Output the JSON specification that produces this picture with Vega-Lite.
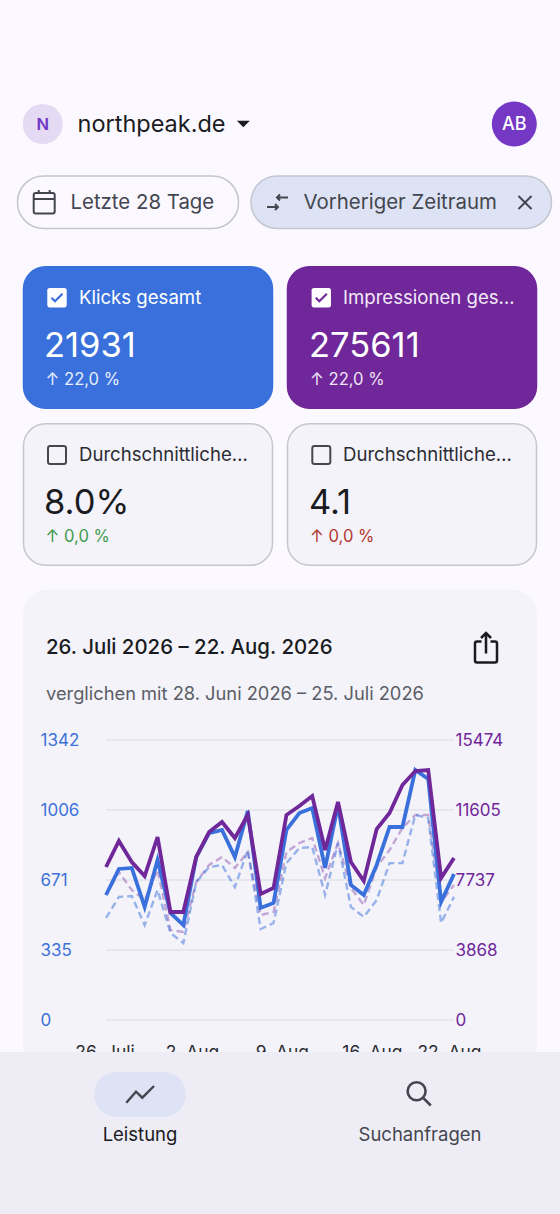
{
"$schema":"https://vega.github.io/schema/vega-lite/v6.json",
"width":560,"height":1214,"padding":0,"autosize":{"type":"none"},
"background":"#fbf9ff",
"view":{"stroke":null},
"config":{"text":{"font":"Inter"},"view":{"stroke":null}},
"datasets":{
"kennzahlen":[
{"id":"klicks","aktiv":true,"titel":"Klicks gesamt","wert":"21931","delta":"↑ 22,0 %","spalte":"links","zeile":"oben"},
{"id":"impressionen","aktiv":true,"titel":"Impressionen ges…","wert":"275611","delta":"↑ 22,0 %","spalte":"rechts","zeile":"oben"},
{"id":"ctr","aktiv":false,"titel":"Durchschnittliche…","wert":"8.0%","delta":"↑ 0,0 %","spalte":"links","zeile":"unten"},
{"id":"position","aktiv":false,"titel":"Durchschnittliche…","wert":"4.1","delta":"↑ 0,0 %","spalte":"rechts","zeile":"unten"}
],
"verlauf":[
{"tag":"2026-07-26","klicks":599,"impressionen":8455,"klicks_vorher":489,"impressionen_vorher":6908},
{"tag":"2026-07-27","klicks":724,"impressionen":9892,"klicks_vorher":590,"impressionen_vorher":8179},
{"tag":"2026-07-28","klicks":729,"impressionen":8732,"klicks_vorher":594,"impressionen_vorher":7184},
{"tag":"2026-07-29","klicks":542,"impressionen":7958,"klicks_vorher":455,"impressionen_vorher":6632},
{"tag":"2026-07-30","klicks":767,"impressionen":10113,"klicks_vorher":623,"impressionen_vorher":8290},
{"tag":"2026-07-31","klicks":513,"impressionen":5969,"klicks_vorher":417,"impressionen_vorher":4974},
{"tag":"2026-08-01","klicks":455,"impressionen":5969,"klicks_vorher":369,"impressionen_vorher":4863},
{"tag":"2026-08-02","klicks":781,"impressionen":9008,"klicks_vorher":661,"impressionen_vorher":7626},
{"tag":"2026-08-03","klicks":896,"impressionen":10390,"klicks_vorher":733,"impressionen_vorher":8566},
{"tag":"2026-08-04","klicks":911,"impressionen":10942,"klicks_vorher":743,"impressionen_vorher":9008},
{"tag":"2026-08-05","klicks":781,"impressionen":10058,"klicks_vorher":637,"impressionen_vorher":8400},
{"tag":"2026-08-06","klicks":1002,"impressionen":11329,"klicks_vorher":815,"impressionen_vorher":9284},
{"tag":"2026-08-07","klicks":537,"impressionen":6963,"klicks_vorher":436,"impressionen_vorher":5803},
{"tag":"2026-08-08","klicks":561,"impressionen":7295,"klicks_vorher":465,"impressionen_vorher":5969},
{"tag":"2026-08-09","klicks":911,"impressionen":11329,"klicks_vorher":752,"impressionen_vorher":9284},
{"tag":"2026-08-10","klicks":992,"impressionen":11826,"klicks_vorher":824,"impressionen_vorher":9782},
{"tag":"2026-08-11","klicks":1016,"impressionen":12379,"klicks_vorher":829,"impressionen_vorher":10058},
{"tag":"2026-08-12","klicks":729,"impressionen":9395,"klicks_vorher":599,"impressionen_vorher":7847},
{"tag":"2026-08-13","klicks":1030,"impressionen":12048,"klicks_vorher":848,"impressionen_vorher":9782},
{"tag":"2026-08-14","klicks":647,"impressionen":8732,"klicks_vorher":542,"impressionen_vorher":7295},
{"tag":"2026-08-15","klicks":599,"impressionen":7682,"klicks_vorher":494,"impressionen_vorher":6355},
{"tag":"2026-08-16","klicks":743,"impressionen":10555,"klicks_vorher":575,"impressionen_vorher":8455},
{"tag":"2026-08-17","klicks":925,"impressionen":11440,"klicks_vorher":752,"impressionen_vorher":9395},
{"tag":"2026-08-18","klicks":925,"impressionen":12987,"klicks_vorher":752,"impressionen_vorher":10611},
{"tag":"2026-08-19","klicks":1198,"impressionen":13761,"klicks_vorher":983,"impressionen_vorher":11329},
{"tag":"2026-08-20","klicks":1155,"impressionen":13816,"klicks_vorher":968,"impressionen_vorher":11329},
{"tag":"2026-08-21","klicks":566,"impressionen":7847,"klicks_vorher":465,"impressionen_vorher":6521},
{"tag":"2026-08-22","klicks":700,"impressionen":8953,"klicks_vorher":590,"impressionen_vorher":7461}
]
},
"resolve":{"scale":{"x":"independent","y":"independent","fill":"independent","stroke":"independent","color":"independent"}},
"layer":[
{"data":{"values":[{"element":"Avatar"}]},"mark":{"type":"point","shape":"circle","size":1600,"filled":true,"fill":"#e4daf3","opacity":1},"encoding":{"x":{"field":"element","type":"nominal","scale":{"type":"point","range":[42.7,42.7]},"axis":null},"y":{"field":"element","type":"nominal","scale":{"type":"point","range":[124,124]},"axis":null}}},
{"data":{"values":[{"element":"N"}]},"mark":{"type":"text","font":"Inter","fontSize":16.5,"fontWeight":600,"color":"#6e35c4","align":"center","baseline":"middle"},"encoding":{"text":{"field":"element"},"x":{"field":"element","type":"nominal","scale":{"type":"point","range":[42.7,42.7]},"axis":null},"y":{"field":"element","type":"nominal","scale":{"type":"point","range":[125,125]},"axis":null}}},
{"data":{"values":[{"element":"northpeak.de"}]},"mark":{"type":"text","font":"Inter","fontSize":23.5,"fontWeight":400,"color":"#1a1b21","align":"left","baseline":"middle"},"encoding":{"text":{"field":"element"},"x":{"field":"element","type":"nominal","scale":{"type":"point","range":[77.5,77.5]},"axis":null},"y":{"field":"element","type":"nominal","scale":{"type":"point","range":[125,125]},"axis":null}}},
{"data":{"values":[{"element":"Auswahl"}]},"mark":{"type":"point","shape":"M-6.5 -3.3H6.5L0 3.3Z","size":4,"filled":true,"fill":"#1a1b21","opacity":1},"encoding":{"x":{"field":"element","type":"nominal","scale":{"type":"point","range":[243.3,243.3]},"axis":null},"y":{"field":"element","type":"nominal","scale":{"type":"point","range":[124,124]},"axis":null}}},
{"data":{"values":[{"element":"Konto"}]},"mark":{"type":"point","shape":"circle","size":2025,"filled":true,"fill":"#7438c4","opacity":1},"encoding":{"x":{"field":"element","type":"nominal","scale":{"type":"point","range":[514.3,514.3]},"axis":null},"y":{"field":"element","type":"nominal","scale":{"type":"point","range":[124,124]},"axis":null}}},
{"data":{"values":[{"element":"AB"}]},"mark":{"type":"text","font":"Inter","fontSize":18,"fontWeight":500,"color":"#ffffff","align":"center","baseline":"middle"},"encoding":{"text":{"field":"element"},"x":{"field":"element","type":"nominal","scale":{"type":"point","range":[514.3,514.3]},"axis":null},"y":{"field":"element","type":"nominal","scale":{"type":"point","range":[125,125]},"axis":null}}},

{"data":{"values":[{"element":"Zeitraum"}]},"mark":{"type":"rect","cornerRadius":26,"fill":"#fbf9ff","stroke":"#c4c6d0","strokeWidth":1.5},"encoding":{"x":{"field":"element","type":"nominal","scale":{"type":"band","range":[17.5,238.5],"padding":0},"axis":null},"y":{"field":"element","type":"nominal","scale":{"type":"band","range":[176,228.5],"padding":0},"axis":null}}},
{"data":{"values":[{"element":"Vergleich"}]},"mark":{"type":"rect","cornerRadius":26,"fill":"#dde3f4","stroke":"#c4c6d0","strokeWidth":1.5},"encoding":{"x":{"field":"element","type":"nominal","scale":{"type":"band","range":[251,551.5],"padding":0},"axis":null},"y":{"field":"element","type":"nominal","scale":{"type":"band","range":[176,228.5],"padding":0},"axis":null}}},
{"data":{"values":[{"element":"Kalender"}]},"mark":{"type":"point","shape":"M-8.5 -9H8.5A2 2 0 0 1 10.5 -7V9.5A2 2 0 0 1 8.5 11.5H-8.5A2 2 0 0 1 -10.5 9.5V-7A2 2 0 0 1 -8.5 -9ZM-10.5 -3H10.5M-5.5 -12V-8M5.5 -12V-8","size":4,"filled":false,"stroke":"#44464f","strokeWidth":2,"opacity":1},"encoding":{"x":{"field":"element","type":"nominal","scale":{"type":"point","range":[44.2,44.2]},"axis":null},"y":{"field":"element","type":"nominal","scale":{"type":"point","range":[202,202]},"axis":null}}},
{"data":{"values":[{"element":"Pfeile"}]},"mark":{"type":"point","shape":"M-10.5 5H0.5M-2.5 2L0.5 5L-2.5 8M10.5 -4.5H-0.5M2.5 -7.5L-0.5 -4.5L2.5 -1.5","size":4,"filled":false,"stroke":"#44464f","strokeWidth":2,"opacity":1},"encoding":{"x":{"field":"element","type":"nominal","scale":{"type":"point","range":[277.5,277.5]},"axis":null},"y":{"field":"element","type":"nominal","scale":{"type":"point","range":[202,202]},"axis":null}}},
{"data":{"values":[{"element":"Schliessen"}]},"mark":{"type":"point","shape":"M-6.5 -6.5L6.5 6.5M6.5 -6.5L-6.5 6.5","size":4,"filled":false,"stroke":"#44464f","strokeWidth":2,"opacity":1},"encoding":{"x":{"field":"element","type":"nominal","scale":{"type":"point","range":[525,525]},"axis":null},"y":{"field":"element","type":"nominal","scale":{"type":"point","range":[202.5,202.5]},"axis":null}}},
{"data":{"values":[{"filter":"Letzte 28 Tage"},{"filter":"Vorheriger Zeitraum"}]},"mark":{"type":"text","font":"Inter","fontSize":20.4,"color":"#44464f","align":"left","baseline":"middle"},"encoding":{"text":{"field":"filter"},"x":{"field":"filter","type":"nominal","sort":null,"scale":{"type":"point","range":[70.5,303.5],"padding":0},"axis":null},"y":{"field":"filter","type":"nominal","scale":{"type":"point","range":[203,203]},"axis":null}}},

{"data":{"name":"kennzahlen"},"mark":{"type":"rect","cornerRadius":22,"strokeWidth":1.5},"encoding":{"x":{"field":"spalte","type":"nominal","scale":{"type":"band","range":[23.5,536.5],"paddingInner":0.0568,"paddingOuter":0},"axis":null},"y":{"field":"zeile","type":"nominal","scale":{"type":"band","range":[266.75,565.25],"paddingInner":0.0987,"paddingOuter":0},"axis":null},"fill":{"field":"id","type":"nominal","scale":{"domain":["klicks","impressionen","ctr","position"],"range":["#3970dc","#6f2799","#f4f3fa","#f4f3fa"]},"legend":null},"stroke":{"field":"id","type":"nominal","scale":{"domain":["klicks","impressionen","ctr","position"],"range":["#3970dc","#6f2799","#c4c6d0","#c4c6d0"]},"legend":null}}},
{"data":{"name":"kennzahlen"},"transform":[{"filter":"datum.aktiv"}],"mark":{"type":"point","shape":"M-7.5 -9.7H7.5A2.2 2.2 0 0 1 9.7 -7.5V7.5A2.2 2.2 0 0 1 7.5 9.7H-7.5A2.2 2.2 0 0 1 -9.7 7.5V-7.5A2.2 2.2 0 0 1 -7.5 -9.7Z","size":4,"filled":true,"fill":"#ffffff","opacity":1},"encoding":{"x":{"field":"spalte","type":"nominal","scale":{"type":"point","domain":["links","rechts"],"range":[57,321.3],"padding":0},"axis":null},"y":{"field":"zeile","type":"nominal","scale":{"type":"point","domain":["oben","unten"],"range":[297.7,455],"padding":0},"axis":null}}},
{"data":{"name":"kennzahlen"},"transform":[{"filter":"datum.aktiv"}],"mark":{"type":"point","shape":"M-5.5 0L-2 3.5L5.5 -4","size":4,"filled":false,"strokeWidth":2.2,"opacity":1},"encoding":{"x":{"field":"spalte","type":"nominal","scale":{"type":"point","domain":["links","rechts"],"range":[57,321.3],"padding":0},"axis":null},"y":{"field":"zeile","type":"nominal","scale":{"type":"point","domain":["oben","unten"],"range":[297.7,455],"padding":0},"axis":null},"stroke":{"field":"id","type":"nominal","scale":{"domain":["klicks","impressionen"],"range":["#3970dc","#6f2799"]},"legend":null}}},
{"data":{"name":"kennzahlen"},"transform":[{"filter":"!datum.aktiv"}],"mark":{"type":"point","shape":"M-6.8 -9H6.8A2.2 2.2 0 0 1 9 -6.8V6.8A2.2 2.2 0 0 1 6.8 9H-6.8A2.2 2.2 0 0 1 -9 6.8V-6.8A2.2 2.2 0 0 1 -6.8 -9Z","size":4,"filled":false,"stroke":"#46464f","strokeWidth":2,"opacity":1},"encoding":{"x":{"field":"spalte","type":"nominal","scale":{"type":"point","domain":["links","rechts"],"range":[57,321.3],"padding":0},"axis":null},"y":{"field":"zeile","type":"nominal","scale":{"type":"point","domain":["oben","unten"],"range":[297.7,455],"padding":0},"axis":null}}},
{"data":{"name":"kennzahlen"},"mark":{"type":"text","font":"Inter","fontSize":18.6,"align":"left","baseline":"middle"},"encoding":{"text":{"field":"titel"},"x":{"field":"spalte","type":"nominal","scale":{"type":"point","range":[79,343],"padding":0},"axis":null},"y":{"field":"zeile","type":"nominal","scale":{"type":"point","range":[298,455],"padding":0},"axis":null},"color":{"field":"id","type":"nominal","scale":{"domain":["klicks","impressionen","ctr","position"],"range":["#ffffff","#f3e9f8","#2a2b31","#2a2b31"]},"legend":null}}},
{"data":{"name":"kennzahlen"},"mark":{"type":"text","font":"Inter","fontSize":34.5,"align":"left","baseline":"middle"},"encoding":{"text":{"field":"wert"},"x":{"field":"spalte","type":"nominal","scale":{"type":"point","range":[44,309],"padding":0},"axis":null},"y":{"field":"zeile","type":"nominal","scale":{"type":"point","range":[347,504],"padding":0},"axis":null},"color":{"field":"id","type":"nominal","scale":{"domain":["klicks","impressionen","ctr","position"],"range":["#ffffff","#ffffff","#1a1b21","#1a1b21"]},"legend":null}}},
{"data":{"name":"kennzahlen"},"mark":{"type":"text","font":"Inter","fontSize":16.6,"align":"left","baseline":"middle"},"encoding":{"text":{"field":"delta"},"x":{"field":"spalte","type":"nominal","scale":{"type":"point","range":[45.5,310],"padding":0},"axis":null},"y":{"field":"zeile","type":"nominal","scale":{"type":"point","range":[380,537],"padding":0},"axis":null},"color":{"field":"id","type":"nominal","scale":{"domain":["klicks","impressionen","ctr","position"],"range":["#e8eefc","#f0e4f5","#3f9a4e","#b3372d"]},"legend":null}}},

{"data":{"values":[{"element":"Diagrammkarte"}]},"mark":{"type":"rect","cornerRadius":24,"fill":"#f4f3fa"},"encoding":{"x":{"field":"element","type":"nominal","scale":{"type":"band","range":[23,537],"padding":0},"axis":null},"y":{"field":"element","type":"nominal","scale":{"type":"band","range":[590,1260],"padding":0},"axis":null}}},
{"data":{"values":[{"titel":"26. Juli 2026 – 22. Aug. 2026"}]},"mark":{"type":"text","font":"Inter","fontSize":20.4,"fontWeight":500,"color":"#1a1b21","align":"left","baseline":"middle"},"encoding":{"text":{"field":"titel"},"x":{"field":"titel","type":"nominal","scale":{"type":"point","range":[46,46]},"axis":null},"y":{"field":"titel","type":"nominal","scale":{"type":"point","range":[647.5,647.5]},"axis":null}}},
{"data":{"values":[{"titel":"verglichen mit 28. Juni 2026 – 25. Juli 2026"}]},"mark":{"type":"text","font":"Inter","fontSize":18.3,"color":"#5b5d66","align":"left","baseline":"middle"},"encoding":{"text":{"field":"titel"},"x":{"field":"titel","type":"nominal","scale":{"type":"point","range":[46,46]},"axis":null},"y":{"field":"titel","type":"nominal","scale":{"type":"point","range":[695,695]},"axis":null}}},
{"data":{"values":[{"element":"Teilen"}]},"mark":{"type":"point","shape":"M-4.5 -6H-9A2 2 0 0 0 -11 -4V13A2 2 0 0 0 -9 15H9A2 2 0 0 0 11 13V-4A2 2 0 0 0 9 -6H4.5M0 -14.5V6M-5 -9.5L0 -14.5L5 -9.5","size":4,"filled":false,"stroke":"#1a1b21","strokeWidth":2.5,"opacity":1},"encoding":{"x":{"field":"element","type":"nominal","scale":{"type":"point","range":[486,486]},"axis":null},"y":{"field":"element","type":"nominal","scale":{"type":"point","range":[647.5,647.5]},"axis":null}}},

{"data":{"values":[{"wert":0},{"wert":335},{"wert":671},{"wert":1006},{"wert":1342}]},"mark":{"type":"rule","color":"#e2e2e9","strokeWidth":1.5},"encoding":{"y":{"field":"wert","type":"quantitative","scale":{"domain":[0,1342],"range":[1020,740],"nice":false},"axis":null},"x":{"datum":{"year":2026,"month":"jul","date":26},"type":"temporal","scale":{"domain":[{"year":2026,"month":"jul","date":26},{"year":2026,"month":"aug","date":22}],"range":[106,454]},"axis":null},"x2":{"datum":{"year":2026,"month":"aug","date":22}}}},
{"data":{"name":"verlauf"},"mark":{"type":"line","color":"#6f2799","opacity":0.38,"strokeWidth":2.4,"strokeDash":[7,4]},"encoding":{"x":{"field":"tag","type":"temporal","scale":{"type":"utc","range":[106,454]},"axis":null},"y":{"field":"impressionen_vorher","type":"quantitative","scale":{"domain":[0,15474],"range":[1020,740],"nice":false},"axis":{"orient":"right","offset":-105,"values":[0,3868,7737,11605,15474],"format":"d","title":null,"grid":false,"domain":false,"ticks":false,"labelAlign":"left","labelBaseline":"middle","labelPadding":0,"labelBound":false,"labelFlush":false,"labelOverlap":false,"labelFont":"Inter","labelFontSize":17,"labelColor":"#6f2799","zindex":1}}}},
{"data":{"name":"verlauf"},"mark":{"type":"line","color":"#3970dc","opacity":0.5,"strokeWidth":2.4,"strokeDash":[7,4]},"encoding":{"x":{"field":"tag","type":"temporal","scale":{"type":"utc","range":[106,454]},"axis":null},"y":{"field":"klicks_vorher","type":"quantitative","scale":{"domain":[0,1342],"range":[1020,740],"nice":false},"axis":{"orient":"left","offset":-40,"values":[0,335,671,1006,1342],"format":"d","title":null,"grid":false,"domain":false,"ticks":false,"labelAlign":"left","labelBaseline":"middle","labelPadding":0,"labelBound":false,"labelFlush":false,"labelOverlap":false,"labelFont":"Inter","labelFontSize":17,"labelColor":"#3d72d8","zindex":1}}}},
{"data":{"name":"verlauf"},"mark":{"type":"line","color":"#3970dc","strokeWidth":3.8},"encoding":{"x":{"field":"tag","type":"temporal","scale":{"type":"utc","range":[106,454]},"axis":null},"y":{"field":"klicks","type":"quantitative","scale":{"domain":[0,1342],"range":[1020,740],"nice":false},"axis":null}}},
{"data":{"name":"verlauf"},"mark":{"type":"line","color":"#6f2799","strokeWidth":3.8},"encoding":{"x":{"field":"tag","type":"temporal","scale":{"type":"utc","range":[106,454]},"axis":null},"y":{"field":"impressionen","type":"quantitative","scale":{"domain":[0,15474],"range":[1020,740],"nice":false},"axis":null}}},
{"data":{"values":[{"tag":"2026-07-26","beschriftung":"26. Juli"},{"tag":"2026-08-02","beschriftung":"2. Aug."},{"tag":"2026-08-09","beschriftung":"9. Aug."},{"tag":"2026-08-16","beschriftung":"16. Aug."},{"tag":"2026-08-22","beschriftung":"22. Aug."}]},"mark":{"type":"text","font":"Inter","fontSize":17.4,"color":"#2a2b31","align":"center","baseline":"middle"},"encoding":{"text":{"field":"beschriftung"},"x":{"field":"tag","type":"temporal","scale":{"type":"utc","range":[105,452]},"axis":null},"y":{"field":"beschriftung","type":"nominal","scale":{"type":"point","range":[1053,1053]},"axis":null}}},

{"data":{"values":[{"element":"Navigation"}]},"mark":{"type":"rect","fill":"#eeedf5"},"encoding":{"x":{"field":"element","type":"nominal","scale":{"type":"band","range":[0,560],"padding":0},"axis":null},"y":{"field":"element","type":"nominal","scale":{"type":"band","range":[1052,1214],"padding":0},"axis":null}}},
{"data":{"values":[{"element":"Aktiv"}]},"mark":{"type":"rect","cornerRadius":22,"fill":"#dde3f4"},"encoding":{"x":{"field":"element","type":"nominal","scale":{"type":"band","range":[94.3,185.7],"padding":0},"axis":null},"y":{"field":"element","type":"nominal","scale":{"type":"band","range":[1072,1116.7],"padding":0},"axis":null}}},
{"data":{"values":[{"element":"Trend"}]},"mark":{"type":"point","shape":"M-13.7 8.7L-4 -2.3L2.3 3.7L14 -8","size":4,"filled":false,"stroke":"#44464f","strokeWidth":2.4,"opacity":1},"encoding":{"x":{"field":"element","type":"nominal","scale":{"type":"point","range":[140,140]},"axis":null},"y":{"field":"element","type":"nominal","scale":{"type":"point","range":[1094,1094]},"axis":null}}},
{"data":{"values":[{"element":"Lupe"}]},"mark":{"type":"point","shape":"M6.3 -1.7A9 9 0 1 1 -11.7 -1.7A9 9 0 1 1 6.3 -1.7ZM4 5L11.5 12.5","size":4,"filled":false,"stroke":"#44464f","strokeWidth":2.6,"opacity":1},"encoding":{"x":{"field":"element","type":"nominal","scale":{"type":"point","range":[419.3,419.3]},"axis":null},"y":{"field":"element","type":"nominal","scale":{"type":"point","range":[1093,1093]},"axis":null}}},
{"data":{"values":[{"ziel":"Leistung"},{"ziel":"Suchanfragen"}]},"mark":{"type":"text","font":"Inter","fontSize":18.5,"align":"center","baseline":"middle"},"encoding":{"text":{"field":"ziel"},"x":{"field":"ziel","type":"nominal","scale":{"type":"point","range":[140,420],"padding":0},"axis":null},"y":{"field":"ziel","type":"nominal","scale":{"type":"point","range":[1135,1135]},"axis":null},"color":{"field":"ziel","type":"nominal","scale":{"domain":["Leistung","Suchanfragen"],"range":["#1a1b21","#44464f"]},"legend":null}}}
]
}
